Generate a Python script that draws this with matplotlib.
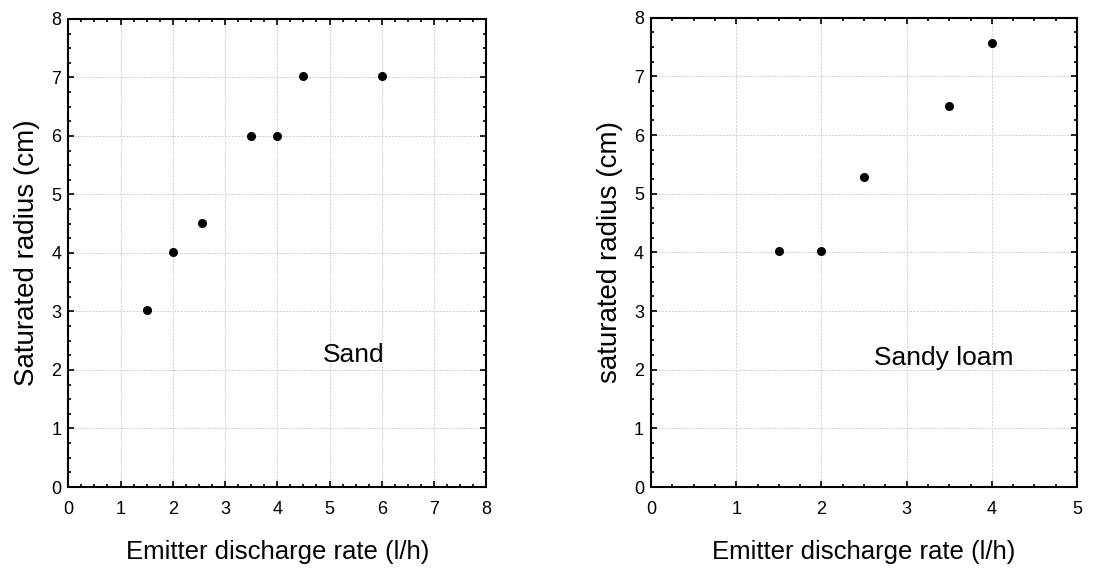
import matplotlib
matplotlib.use('Agg')
import matplotlib.pyplot as plt
from matplotlib.ticker import MultipleLocator, AutoMinorLocator

plt.rcParams['font.family'] = ['Liberation Sans', 'DejaVu Sans']

# sand
sand_q = [1.5, 2.0, 2.56, 3.5, 4.0, 4.5, 6.0]
sand_r = [3.02, 4.02, 4.52, 6.0, 6.0, 7.02, 7.02]
# sandy loam
loam_q = [1.5, 2.0, 2.5, 3.5, 4.0]
loam_r = [4.02, 4.02, 5.28, 6.5, 7.57]

xlabel = 'Emitter discharge rate (l/h)'

fig = plt.figure(figsize=(11.08, 5.68), dpi=100)
ax1 = fig.add_axes([0.0616, 0.1426, 0.3773, 0.824])
ax2 = fig.add_axes([0.5876, 0.1426, 0.3845, 0.826])

def style(ax, xmax):
    ax.set_xlim(0, xmax)
    ax.set_ylim(0, 8)
    ax.xaxis.set_major_locator(MultipleLocator(1))
    ax.yaxis.set_major_locator(MultipleLocator(1))
    ax.xaxis.set_minor_locator(AutoMinorLocator(4))
    ax.yaxis.set_minor_locator(AutoMinorLocator(4))
    ax.grid(True, which='major', color='#cccccc', linestyle=(0, (2, 1.5)), linewidth=0.7)
    ax.set_axisbelow(True)
    ax.tick_params(which='both', direction='in', top=True, right=True, width=1.2, labelsize=13)
    ax.tick_params(which='major', length=4)
    ax.tick_params(which='minor', length=2.5)
    ax.tick_params(axis='x', pad=10)
    ax.tick_params(axis='y', pad=5)
    for s in ax.spines.values():
        s.set_linewidth(1.5)
    ax.set_xlabel(xlabel, fontsize=18.5, labelpad=16)

ax1.plot(sand_q, sand_r, 'o', color='black', markersize=5.5)
style(ax1, 8)
ax1.set_ylabel('Saturated radius (cm)', fontsize=20, labelpad=8)
ax1.text(4.87, 2.14, 'Sand', fontsize=19)

ax2.plot(loam_q, loam_r, 'o', color='black', markersize=5.5)
style(ax2, 5)
ax2.set_ylabel('saturated radius (cm)', fontsize=20, labelpad=8)
ax2.text(2.62, 2.08, 'Sandy loam', fontsize=19)

fig.savefig('out.png', dpi=100)
